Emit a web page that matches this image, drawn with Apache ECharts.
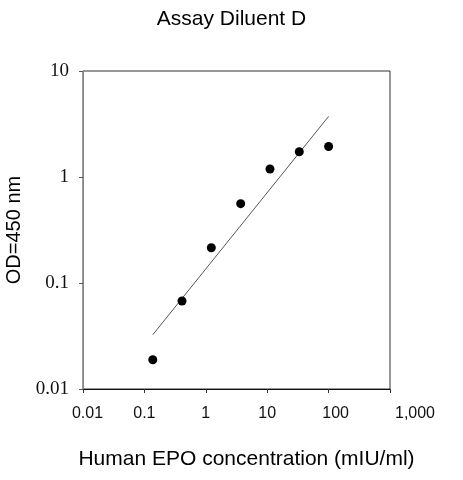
<!DOCTYPE html>
<html lang="en">
<head>
    <meta charset="UTF-8">
    <script src="https://cdn.jsdelivr.net/npm/echarts@6/dist/echarts.min.js"></script>
    <title>Assay Diluent D</title>
</head>
<body>
<style>
    html, body, #main {
        width: 100%;
        height: 100%;
        margin: 0;
        background: #fff;
    }
</style>
<div id='main'></div>
<script>
    // measured points (3-fold dilution series)
    var concX = [0.137, 0.41, 1.23, 3.7, 11.1, 33.3, 100];
    var odY = [0.0189, 0.0676, 0.215, 0.56, 1.19, 1.73, 1.94];
    // fitted line end points
    var fitX = [0.137, 100];
    var fitY = [0.0325, 3.73];
    // tick labels
    var xTickLabels = ['0.01', '0.1', '1', '10', '100', '1,000'];
    var yTickLabels = ['0.01', '0.1', '1', '10'];

    var points = [];
    for (var i = 0; i < concX.length; i++) {
        points.push([concX[i], odY[i]]);
    }
    var fit = [];
    for (var j = 0; j < fitX.length; j++) {
        fit.push([fitX[j], fitY[j]]);
    }

    var chart = echarts.init(document.getElementById('main'));

    var option = {
        animation: false,
        title: {
            text: 'Assay Diluent D',
            left: 'center',
            top: 4,
            textStyle: {
                fontFamily: 'Liberation Sans',
                fontWeight: 'normal',
                fontSize: 21,
                color: '#000'
            }
        },
        grid: {
            left: 83,
            right: 73,
            top: 71,
            bottom: 91,
            outerBoundsMode: 'none',
            containLabel: false,
            show: true,
            borderColor: '#333',
            borderWidth: 1
        },
        xAxis: {
            type: 'log',
            logBase: 10,
            min: 0.01,
            max: 1000,
            name: 'Human EPO concentration (mIU/ml)',
            nameLocation: 'middle',
            nameGap: 60,
            nameTextStyle: {
                fontFamily: 'Liberation Sans',
                fontSize: 21,
                color: '#000',
                padding: [0, 0, 0, 20]
            },
            axisLine: {lineStyle: {color: '#111', width: 1}},
            axisTick: {inside: false, length: 4, lineStyle: {color: '#333'}},
            splitLine: {show: false},
            axisLabel: {
                margin: 17,
                fontFamily: 'Liberation Sans',
                fontSize: 16,
                color: '#111',
                formatter: function (v, idx) {
                    var t = xTickLabels[idx];
                    if (t === '1,000') return '{far|' + t + '}';
                    if (t === '100') return '{mid|' + t + '}';
                    if (t === '0.01') return '{near|' + t + '}';
                    return t;
                },
                rich: {
                    far: {fontFamily: 'Liberation Sans', fontSize: 16, color: '#111', padding: [0, 0, 0, 50]},
                    mid: {fontFamily: 'Liberation Sans', fontSize: 16, color: '#111', padding: [0, 0, 0, 14]},
                    near: {fontFamily: 'Liberation Sans', fontSize: 16, color: '#111', padding: [0, 0, 0, 9]}
                }
            }
        },
        yAxis: {
            type: 'log',
            logBase: 10,
            min: 0.01,
            max: 10,
            name: 'OD=450 nm',
            nameLocation: 'middle',
            nameGap: 59,
            nameTextStyle: {
                fontFamily: 'Liberation Sans',
                fontSize: 20,
                color: '#000'
            },
            axisLine: {show: true, lineStyle: {color: '#888', width: 1}},
            axisTick: {show: true, inside: false, length: 4, lineStyle: {color: '#555'}},
            splitLine: {show: false},
            axisLabel: {
                margin: 14,
                fontFamily: 'Liberation Serif',
                fontSize: 19,
                color: '#111',
                formatter: function (v, idx) {
                    return yTickLabels[idx];
                }
            }
        },
        series: [
            {
                type: 'line',
                data: fit,
                showSymbol: false,
                symbol: 'none',
                lineStyle: {color: '#555', width: 1},
                z: 2
            },
            {
                type: 'scatter',
                data: points,
                symbol: 'circle',
                symbolSize: 9,
                itemStyle: {color: '#000', opacity: 1},
                z: 3
            }
        ]
    };

    chart.setOption(option);
    window.onresize = chart.resize;
</script>
</body>
</html>
